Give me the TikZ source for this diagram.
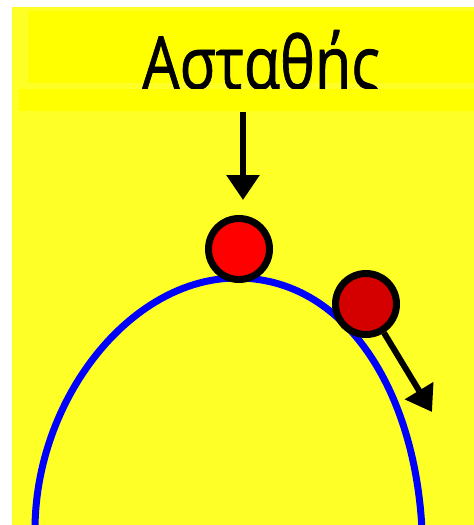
\documentclass[tikz,border=0pt]{standalone}
\usepackage{fontspec}
\setmainfont{Open Sans}
\newfontfamily\titlefont[FakeBold=1.2]{Open Sans}
\usetikzlibrary{arrows.meta}
\definecolor{BgYellow}{RGB}{255,255,40}
\definecolor{PlainYellow}{RGB}{255,255,0}
\definecolor{BallRed}{RGB}{255,0,0}
\definecolor{BallDark}{RGB}{212,0,0}
\definecolor{HillBlue}{RGB}{0,0,255}

\begin{document}
\begin{tikzpicture}[x=1pt,y=-1pt,>={Triangle[length=25pt,width=32pt]},
    ball/.style={circle,draw=black,line width=7pt,inner sep=0pt,minimum size=61pt},
    push/.style={->,line width=6pt,black}]
  \useasboundingbox (0,0) rectangle (474,525);
  % background patches
  \fill[BgYellow] (12,7) rectangle (474,525);
  \fill[PlainYellow] (28,11) rectangle (474,83);
  \node[anchor=base,inner sep=0pt,xscale=0.81,font=\titlefont\fontsize{73}{80}\selectfont] (title) at (261,89) {Ασταθής};
  \fill[PlainYellow] (19,89) rectangle (474,111);
  % the hill
  \begin{scope}
    \clip (12,7) rectangle (474,525);
    \draw[HillBlue,line width=7pt] (35,530) .. controls (35,400) and (130,278) .. (237,278)
      .. controls (345,278) and (415,390) .. (422,530);
  \end{scope}
  \node[ball,fill=BallRed] (topball) at (239,249) {};
  \node[ball,fill=BallDark] (sideball) at (366,304) {};
  \coordinate (start) at (243,112);
  \coordinate (stop) at (243,200);
  \coordinate (fall) at (432,412);
  \draw[push] (start) -- (stop);
  \draw[push] (sideball.-58) -- (fall);
\end{tikzpicture}
\end{document}
